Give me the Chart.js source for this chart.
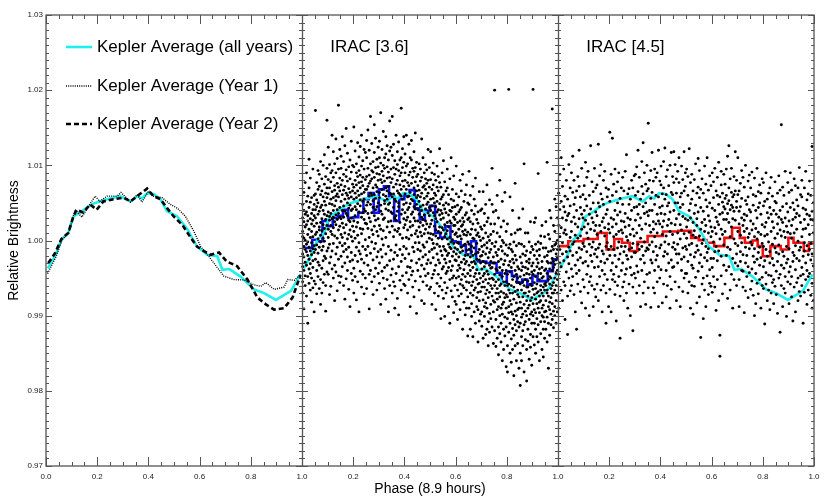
<!DOCTYPE html>
<html>
<head>
<meta charset="utf-8">
<script src="https://cdn.jsdelivr.net/npm/chart.js@4/dist/chart.umd.min.js"></script>
<style>
  body { margin: 0; background: #fff; }
  #wrap { width: 830px; height: 499px; }
</style>
</head>
<body>
<div id="wrap"><canvas id="phase-curve" width="830" height="499"></canvas></div>
<script>
// curve values are in parts per thousand relative to 1.0 (e.g. 4.5 -> 1.0045)
// phases run 0..1 inside each panel

// Kepler average, all years (cyan) - same curve is shown in every panel
let keplerAll = [[.007,-3.7],[.035,-2.1],[.06,0.1],[.087,1.0],[.107,3.2],[.133,3.7],[.16,4.4],[.192,5.0],[.238,5.5],[.29,5.9],[.33,5.2],[.356,5.9],[.375,5.6],[.395,6.3],[.42,6.2],[.447,5.5],[.473,3.9],[.513,3.2],[.552,1.5],[.59,-0.8],[.63,-1.9],[.669,-2.1],[.689,-3.9],[.716,-3.8],[.76,-4.8],[.813,-6.5],[.852,-7.0],[.898,-7.9],[.957,-6.7],[.994,-4.5]];

// Kepler average, year 1 (dotted)
let keplerYear1 = [[.006,-4.4],[.04,-2.1],[.063,0.1],[.09,1.2],[.114,4.1],[.14,3.1],[.165,4.5],[.192,5.9],[.21,5.2],[.238,5.9],[.278,5.9],[.293,6.4],[.33,5.1],[.356,6.1],[.375,5.1],[.401,6.6],[.42,5.9],[.453,5.7],[.486,4.8],[.513,4.3],[.545,3.2],[.578,1.2],[.604,-0.8],[.636,-2.1],[.669,-3.6],[.695,-4.75],[.735,-5.2],[.774,-5.25],[.813,-5.9],[.839,-6.1],[.859,-5.6],[.891,-6.5],[.93,-6.2],[.944,-5.2],[.97,-5.3],[.994,-4.5]];

// Kepler average, year 2 (dashed)
let keplerYear2 = [[.009,-3.0],[.035,-1.7],[.06,0.2],[.087,1.0],[.107,3.2],[.12,4.1],[.146,3.7],[.172,4.8],[.198,4.1],[.224,5.2],[.264,5.5],[.303,5.7],[.33,5.2],[.356,5.9],[.395,6.9],[.42,5.9],[.447,5.5],[.473,4.3],[.499,3.2],[.532,2.1],[.565,0.4],[.59,-0.8],[.617,-1.4],[.643,-1.9],[.676,-1.6],[.706,-2.8],[.746,-3.4],[.787,-5.2],[.826,-7.6],[.859,-8.5],[.891,-9.2],[.93,-9.0],[.963,-7.6],[.994,-4.6]];

// IRAC [3.6] binned light curve (blue step), bin edges and values
let irac36Edges = [0,.02,.04,.06,.08,.10,.12,.14,.16,.18,.20,.22,.24,.26,.28,.30,.32,.34,.36,.38,.40,.42,.44,.46,.48,.50,.52,.54,.56,.58,.60,.62,.64,.66,.68,.70,.72,.74,.76,.78,.80,.82,.84,.86,.88,.90,.92,.94,.96,.98,1.0];
let irac36Binned = [-1.0,-1.0,0.1,-0.1,2.6,1.9,3.0,3.3,4.1,3.0,3.1,3.7,5.5,6.3,3.7,6.8,7.2,5.9,2.6,5.5,6.0,6.7,4.3,2.8,4.0,4.6,1.0,0.4,1.9,-0.1,-0.2,-0.7,-1.9,-0.1,-2.8,-2.8,-3.0,-3.0,-4.3,-5.6,-4.1,-4.7,-5.6,-5.2,-5.9,-4.7,-5.4,-5.4,-4.1,-2.5];

// IRAC [4.5] binned light curve (red step), bin edges and values
let irac45Edges = [0,.04,.10,.155,.19,.22,.25,.28,.31,.35,.41,.47,.52,.55,.58,.61,.65,.68,.71,.73,.76,.78,.80,.83,.87,.90,.92,.96,.98,1.0];
let irac45Binned = [-0.75,-0.1,0.2,1.0,-1.2,0.2,-0.3,-1.4,-0.2,0.6,1.2,1.3,0.35,0.05,-0.3,-0.75,0.35,1.7,0.35,-0.3,0.0,-0.75,-2.1,-0.75,-1.2,0.35,-0.3,-1.4,-0.4];

// individual IRAC measurements, grouped in phase columns of width 0.005
// (row i covers phase i*0.005 .. (i+1)*0.005), values in units of 1e-4 relative to 1.0
let pointBinWidth = 0.005;
let irac36Columns = [
[12,-35,48,-70,5,-18,30,-55],[-22,64,-8,25,-91,40,-40,3],[35,-12,-60,18,77,-29,0,-47],[-5,52,-33,90,-15,21,-74,38],[26,-48,8,-20,59,-110,33,-2],
[-38,15,70,-9,-57,44,-25,108],[4,-66,29,51,-14,-31,83,-44],[57,-19,-3,36,-82,12,-50,22],[-27,41,95,-11,-63,27,5,-36],[19,-54,-16,60,33,-95,48,-7],
[30,-25,62,8,-58,173,41,-12],[11,45,-40,77,-6,23,-71,54],[50,-17,93,2,-48,35,-29,68],[-9,72,18,-64,39,88,-33,14],[44,-2,-52,61,24,-85,105,7],
[66,13,-37,47,-13,82,29,-70],[21,58,-27,100,3,-56,40,-8],[75,-21,35,-45,114,16,52,-1],[9,85,-60,28,63,-24,47,-94],[57,20,-14,96,-42,33,70,160],
[38,-10,81,15,-45,62,124,4],[70,27,-30,49,101,-5,32,-72],[12,90,55,-22,36,-61,78,20],[48,-38,65,140,8,29,-14,93],[84,31,-4,57,-50,118,40,17],
[25,67,-33,102,6,46,-80,73],[59,-18,90,34,-42,21,135,53],[3,76,41,-67,109,28,62,-9],[95,36,-25,58,14,180,-47,71],[44,-3,83,19,-56,66,31,121],
[29,74,-21,52,112,8,-48,96],[61,-7,40,138,-35,23,80,4],[17,88,46,-60,67,31,-15,105],[72,-30,55,10,126,-4,39,-78],[36,94,-12,63,21,-51,85,149],
[50,2,79,-40,33,116,-22,60],[8,69,-65,43,98,27,-9,56],[82,25,-28,107,47,-88,64,14],[40,-16,91,5,58,-44,132,30],[66,19,-53,75,-1,42,100,-26],
[55,98,12,-37,71,151,26,-70],[33,80,-20,119,45,3,63,-48],[90,41,-9,57,-79,102,18,74],[24,66,130,-28,49,85,-55,7],[77,-14,38,111,60,-3,-95,93],
[46,87,16,-41,125,54,-18,70],[62,-25,99,31,-62,78,140,9],[15,73,52,-8,106,-45,37,84],[95,28,-30,64,42,121,-71,55],[39,-12,81,117,-50,23,68,1],
[68,110,22,-20,85,47,-64,133],[51,96,-33,72,16,147,36,-8],[87,30,-45,59,120,4,-91,76],[25,79,102,-17,48,63,-40,165],[60,-2,93,37,129,-55,14,82],
[105,44,-26,70,8,-72,91,53],[33,84,154,-11,61,19,-48,117],[74,-37,97,41,-4,136,56,27],[12,89,65,-66,108,45,-22,71],[98,50,-15,124,29,-44,80,6],
[57,132,20,-30,88,64,-57,110],[81,-12,47,103,-85,39,170,15],[35,92,68,-22,121,2,-41,77],[100,28,-50,61,13,145,86,-6],[49,-36,79,110,-64,30,96,53],
[70,115,-18,42,4,-78,59,138],[18,83,55,-33,98,-52,126,66],[91,40,-8,72,-95,25,107,48],[63,-27,119,11,50,-60,84,159],[38,77,-13,95,26,-46,62,124],
[82,19,-38,58,113,-70,36,165],[44,97,5,-25,71,128,-55,62],[106,30,-61,88,14,-16,55,-90],[27,75,140,-44,52,95,-6,33],[66,-20,101,39,-77,80,118,12],
[93,50,-35,16,63,-99,131,45],[8,86,61,-12,107,24,-53,74],[59,176,-28,90,35,-66,68,110],[41,-47,79,122,3,55,-19,97],[72,17,-8,104,-58,48,138,29],
[37,90,-24,62,115,-60,21,80],[68,4,-43,99,50,140,-11,27],[14,77,41,-70,102,31,-35,58],[87,-18,59,128,2,-52,73,44],[25,64,-36,91,18,110,-88,49],
[55,107,7,-27,76,-46,133,35],[96,38,-62,53,-9,84,20,-41],[30,70,118,-15,45,-75,92,61],[78,-3,42,97,-54,26,143,9],[48,85,-30,66,13,-97,57,104],
[26,60,-12,88,41,-40,5,73],[52,-25,35,102,-3,67,-66,18],[79,11,-48,45,24,-14,95,58],[6,63,31,-33,84,-80,40,135],[47,-6,71,20,-55,110,28,-22],
[90,34,-38,56,9,73,-9,-84],[15,68,101,-19,42,-47,26,82],[59,-31,22,76,-2,94,48,-60],[37,80,-44,10,63,121,-26,51],[71,3,44,-15,97,-65,33,18],
[22,55,-30,81,9,-62,40,118],[46,-12,68,-50,27,90,1,-85],[8,74,37,-23,56,-4,103,-45],[63,-40,19,88,-70,33,-10,50],[29,6,80,-33,45,-92,60,14],
[-5,52,-57,25,99,-18,38,71],[41,-26,12,66,-45,85,-74,3],[18,77,-8,34,-61,49,122,-30],[55,-50,28,-14,71,-104,10,40],[-20,36,90,2,-38,58,-66,17],
[14,-35,61,-8,30,-77,47,106],[-25,42,5,-56,78,21,-12,-101],[37,-14,-44,66,9,-30,50,-70],[2,70,-63,24,-20,95,-41,13],[-36,18,48,-5,-88,34,-17,61],
[26,-52,-9,82,-28,4,-110,40],[-11,55,23,-40,39,-67,110,-2],[44,-21,-75,12,68,-34,1,-50],[-4,31,-47,86,-15,20,-96,53],[20,-60,8,-26,45,-81,28,-10],
[-18,35,-50,10,-85,62,-27,99],[5,-40,-12,47,-66,24,-105,-3],[-33,15,58,-22,-4,-74,38,-48],[26,-58,-16,80,-37,6,-92,41],[-9,44,-71,19,-29,66,-52,2],
[-45,12,30,-60,88,-14,-118,21],[8,-25,-82,52,-6,-39,25,-63],[-20,61,-5,-48,34,-99,14,-31],[37,-66,-28,7,-55,74,-13,-90],[-2,28,-44,-75,50,-19,-127,11],
[-12,30,-56,-5,-90,48,-33,92],[-40,8,-70,25,-22,-118,60,-47],[15,-29,-84,-8,40,-60,-15,-101],[-55,22,-36,72,-73,3,-128,-20],[2,-48,-10,-95,35,-28,55,-66],
[-31,46,-63,-18,-110,14,-44,83],[-76,-4,28,-52,-25,-88,7,-39],[10,-58,-92,38,-16,-69,-135,23],[-26,65,-44,-80,5,-107,-12,-57],[-50,0,-30,40,-98,-21,-68,18],
[-20,-62,15,-95,-38,42,-114,-8],[-47,3,-79,-28,65,-55,-130,-15],[20,-35,-101,-62,-6,-88,36,-44],[-71,-18,48,-52,-125,-30,10,-83],[-10,-90,-41,25,-66,-3,-118,74],
[-57,30,-23,-108,-45,5,-76,-140],[0,-69,-33,54,-97,-16,-51,-122],[-85,-12,22,-60,-37,-104,8,-28],[-36,48,-74,-4,-115,-50,96,-64],[-22,-95,-52,12,-80,-30,-137,38],
[-45,-8,-82,200,-30,-120,22,-60],[-16,-70,-105,-38,40,-55,-141,-2],[-64,10,-40,-92,-20,-130,60,-78],[-28,-88,-52,30,-115,-12,-70,-152],[5,-60,-100,-36,-75,80,-46,-124],
[-90,-25,-58,18,-135,-68,-8,-110],[-40,52,-85,-14,-160,-48,-98,0],[-70,-32,-118,-3,-55,26,-145,-82],[-18,-102,-44,64,-76,-127,-27,-60],[-55,-6,-90,-40,-168,12,-72,-115],
[-60,-20,-104,-45,22,-140,-75,-175],[-33,-88,201,-58,-122,-10,-66,-96],[-80,-42,-150,-5,-110,-28,58,-70],[-12,-95,-60,-131,-36,-85,-162,8],[-70,-25,-117,-52,40,-98,-15,-145],
[-48,-105,-30,-78,-180,-2,-62,-126],[-94,-40,-140,10,-68,-112,-20,76],[-26,-83,-55,-120,-7,-160,-45,-100],[-66,14,-92,-35,-137,-72,-108,-50],[-38,-115,-4,-75,-56,-170,30,-90],
[-58,-22,-110,-48,-150,15,-82,-193],[-90,-40,-128,-5,-66,-102,-30,-160],[-18,-75,-55,-140,-98,42,-120,-35],[-70,-112,-8,-85,-46,-175,-60,102],[-36,-94,-132,-20,-70,-52,-108,10],
[-80,-28,-62,-145,-14,-100,-187,-44],[-54,10,-118,-74,-38,-90,-134,-62],[-25,-86,-45,-158,-105,-2,-68,-30],[-98,-50,-125,-16,-80,-142,25,-58],[-42,-76,-8,-110,-60,-166,-34,-95],
[-65,-30,-100,201,-45,-128,-12,-84],[-20,-92,-56,-139,-72,24,-110,-40],[-78,-5,-118,-48,-96,-64,-150,30],[-35,-84,-25,-104,-58,-128,-14,-70],[-90,-44,-135,-2,-68,-112,-30,89],
[-12,-74,-52,-96,-160,-38,-82,-20],[-60,-108,6,-80,-44,-124,-66,-4],[-100,-28,-70,-145,-50,20,-90,-36],[-48,-86,-118,-10,-62,-102,-74,-155],[-22,-58,-95,-40,-130,5,-66,-108],
[-38,-80,-10,-118,-56,-94,25,-60],[-70,-20,-102,-44,-135,-66,104,-28],[-15,-88,-52,-170,-30,-110,8,-74],[-58,2,-82,-38,-126,-48,-92,40],[-30,-64,-112,-14,-76,30,-50,-98],
[-84,-24,-60,175,-40,-105,-8,-70],[-12,-70,-36,-94,20,-56,-116,-28],[-50,12,-88,-32,-66,-6,-100,55],[-26,-60,-18,-80,45,-44,-110,-4],[-40,0,-70,-22,-95,30,-52,-12]
];

let irac45Columns = [
[20,-45,63,-8,-90],[-30,41,-12,88,5],[52,-66,17,-35,110],[-18,30,-80,72,-3],[45,-27,-55,10,95],
[-60,14,38,-105,59],[8,-42,80,-15,27],[-74,55,-22,33,-125],[36,-9,-50,101,-31],[-14,70,4,-67,46],
[25,-38,90,-60,12],[-5,64,-20,112,-48],[48,-72,31,-2,80],[-33,7,-95,57,22],[66,-16,40,-44,-118],
[3,85,-58,18,-26],[-40,29,72,-10,120],[58,-23,-68,44,6],[-12,96,15,-83,35],[30,-52,61,-30,-4],
[73,-8,40,-62,18],[-28,55,-90,27,104],[10,-45,84,-15,46],[92,-34,22,-70,3],[-55,60,-5,35,-100],
[42,-20,126,-48,15],[-9,78,-60,30,-28],[65,-2,50,-88,24],[-36,13,96,-18,-65],[20,-75,38,70,-12],
[33,-22,74,-58,8],[-10,50,128,-35,-80],[86,-48,20,-5,45],[-66,12,62,-28,101],[25,-40,-95,55,-14],
[48,80,-18,-60,30],[-30,6,92,-45,17],[70,-70,35,-8,-110],[-3,58,-25,41,-52],[15,-88,68,-12,22],
[144,-20,52,-65,10],[-40,30,-8,88,-95],[60,-52,18,-30,136],[5,75,-45,28,-12],[-72,40,95,-20,-55],
[22,-35,65,-107,8],[50,-10,-60,34,78],[-25,90,12,-48,-2],[38,-74,56,-18,-130],[-8,26,-40,70,14],
[10,-30,48,-62,84],[-55,66,-15,25,-80],[36,-45,92,-8,18],[-20,5,-70,114,-38],[62,-25,30,-90,0],
[-12,48,-58,20,69],[28,-100,8,-36,55],[-46,80,-22,40,-10],[15,-62,70,-4,-120],[44,-16,-44,86,6],
[60,-16,27,-50,88],[10,98,-34,45,-70],[-42,35,65,-5,120],[84,-12,48,-60,20],[3,55,-88,30,-25],
[72,-40,15,105,-8],[-20,45,-70,62,130],[36,-2,90,-30,-55],[50,-85,22,75,-14],[-10,66,38,-45,100],
[33,-12,69,-63,156],[80,20,-43,40,-6],[-26,93,11,-89,56],[64,-2,40,-30,117],[15,79,-63,25,-15],
[48,-40,95,5,-70],[-8,60,22,-26,84],[90,-20,35,-55,10],[26,120,-35,58,-88],[-50,44,79,-10,22],
[74,-6,36,-39,99],[18,62,-83,46,8],[-21,105,26,-58,70],[55,-15,123,-2,35],[6,85,-40,61,-75],
[46,-60,20,94,-18],[-30,28,73,-5,50],[100,12,-48,38,-90],[23,-26,64,-65,117],[61,-9,8,85,-36],
[40,-3,77,-35,118],[21,101,-55,50,-12],[-18,63,29,-80,82],[50,-30,10,92,-5],[77,-62,35,-18,110],
[2,58,-88,44,21],[63,-25,99,-40,14],[-10,81,32,-68,48],[118,9,-50,66,-22],[29,-44,72,-8,90],
[-44,18,95,3,-12],[60,-70,27,-28,85],[11,40,-55,122,-6],[-19,77,49,-90,30],[88,-33,-4,55,-60],
[24,-98,66,7,-37],[-61,36,13,81,-22],[47,102,-16,-49,4],[-7,29,-83,63,20],[71,-41,38,-13,109],
[-30,6,57,-75,93],[15,-129,44,-19,68],[82,-4,-58,24,-35],[-50,63,1,-104,39],[28,-23,99,-66,12],
[54,-88,20,-8,75],[-16,45,-47,110,-27],[67,10,-72,33,-11],[-39,86,26,-57,50],[5,-61,73,-24,18],
[43,90,-36,12,-69],[-24,57,-2,78,-48],[96,17,-62,40,-15],[-8,-93,31,66,9],[60,-27,84,-52,25],
[21,-14,48,104,-80],[-126,35,-154,58,2],[74,-47,15,-21,92],[8,63,-71,37,51],[-33,28,88,-6,45],
[56,12,42,-58,75],[-20,95,60,28,-40],[36,-9,49,-77,112],[70,24,126,-35,53],[-12,82,41,5,-66],
[47,-45,64,96,18],[29,58,-24,44,-90],[85,39,2,-52,61],[-4,66,118,27,-30],[52,-18,44,80,-60],
[12,110,-34,61,-7],[66,-52,22,-88,39],[-28,7,76,45,-15],[93,-40,30,-3,56],[-62,20,-19,84,-41],
[35,71,-96,12,27],[-9,-30,53,-67,100],[48,16,-48,33,-20],[79,-76,4,58,-35],[-43,41,87,-11,9],
[26,-65,38,-2,70],[-54,14,91,-38,-6],[61,-21,-73,47,22],[-11,83,-29,5,-100],[40,-44,59,-84,16],
[2,30,-57,96,-25],[-71,65,11,-16,44],[50,-33,74,-52,-9],[-23,8,-90,35,63],[82,-49,21,-4,-60],
[-35,46,-8,77,-64],[18,-111,52,-27,6],[-58,24,-43,90,-12],[37,-80,8,-21,55],[-2,63,-66,30,-46],
[70,-15,-92,44,-30],[-47,12,35,-70,84],[25,-56,-5,59,-24],[-84,40,-33,17,-52],[52,-10,78,-61,3],
[-16,35,-72,50,-41],[63,-28,9,-97,22],[-50,86,-18,31,-6],[14,-45,67,-122,40],[-33,154,-60,6,28],
[45,-88,24,-15,71],[-64,12,-37,60,-21],[30,-70,4,92,-48],[-8,49,-101,19,-30],[77,-25,38,-55,11],
[-42,64,-11,26,-84],[9,-58,90,-35,44],[-75,20,-48,3,67],[50,-16,28,-107,-28],[-20,82,-62,41,10],
[31,-39,-7,73,-95],[-56,15,54,-24,36],[70,-80,-1,46,-50],[-13,33,-68,97,-27],[24,-47,61,-9,-74],
[-36,58,5,-60,80],[15,-110,43,-21,-45],[-69,28,-14,70,-3],[41,-52,92,-30,16],[-7,-85,35,54,-40],
[62,-19,-48,21,-66],[-44,8,79,-12,33],[28,-73,-26,60,-4],[-18,125,-57,39,-90],[50,-34,10,-80,27]
];

// tick labels and axis text
let xTickStep = 0.2;
let yTickStep = 0.01;
let panelTitles = ['', 'IRAC [3.6]', 'IRAC [4.5]'];
let xAxisTitle = 'Phase (8.9 hours)';
let yAxisTitle = 'Relative Brightness';

// turns [phase, ppt] pairs into chart points for panel k (panel k spans x = k..k+1)
function toPanel(k, pairs) {
    return pairs.map(p => ({ x: k + p[0], y: 1 + p[1] / 1000 }));
}

// phase columns of measurements -> chart points for panel k
function columnsToPanel(k, columns) {
    let pts = [];
    columns.forEach((col, i) => {
        let phase = (i + 0.5) * pointBinWidth;
        col.forEach(v => pts.push({ x: k + phase, y: 1 + v / 10000 }));
    });
    return pts;
}

// step line from bin edges: each value holds from its edge to the next one
function stepPoints(k, edges, values) {
    let pts = values.map((v, i) => ({ x: k + edges[i], y: 1 + v / 1000 }));
    pts.push({ x: k + edges[edges.length - 1], y: 1 + values[values.length - 1] / 1000 });
    return pts;
}

const FONT = "'Liberation Sans', Arial, Helvetica, sans-serif";

let lineStyle = {
    showLine: true,
    pointRadius: 0,
    fill: false,
    tension: 0,
};
let dotStyle = {
    showLine: false,
    pointRadius: 1.45,
    pointBorderWidth: 0,
    pointBackgroundColor: '#000',
    borderColor: '#000',
};

let datasets = [
    Object.assign({ label: 'IRAC [3.6] data', data: columnsToPanel(1, irac36Columns) }, dotStyle),
    Object.assign({ label: 'IRAC [4.5] data', data: columnsToPanel(2, irac45Columns) }, dotStyle),
    Object.assign({ label: 'Kepler Average (Year 1)', data: toPanel(0, keplerYear1), borderColor: '#000', borderWidth: 1.4, borderDash: [1, 1.2] }, lineStyle),
    Object.assign({ label: 'Kepler Average (Year 2)', data: toPanel(0, keplerYear2), borderColor: '#000', borderWidth: 2.6, borderDash: [5, 3] }, lineStyle),
    Object.assign({ label: 'Kepler Average (all years)', data: toPanel(0, keplerAll), borderColor: '#1ff0ee', borderWidth: 2.6 }, lineStyle),
    Object.assign({ label: 'Kepler all years (3.6 panel)', data: toPanel(1, keplerAll), borderColor: '#1ff0ee', borderWidth: 2.6 }, lineStyle),
    Object.assign({ label: 'Kepler all years (4.5 panel)', data: toPanel(2, keplerAll), borderColor: '#1ff0ee', borderWidth: 2.6 }, lineStyle),
    Object.assign({ label: 'IRAC [3.6] binned', data: stepPoints(1, irac36Edges, irac36Binned), borderColor: '#0a14f0', borderWidth: 2.6, stepped: true }, lineStyle),
    Object.assign({ label: 'IRAC [4.5] binned', data: stepPoints(2, irac45Edges, irac45Binned), borderColor: '#f01010', borderWidth: 2.6, stepped: true }, lineStyle),
];

// frame, panel dividers and the inward tick marks
const framePlugin = {
    id: 'frame',
    afterDatasetsDraw(chart) {
        const { ctx, chartArea: a, scales: { x, y } } = chart;
        ctx.save();
        ctx.strokeStyle = '#555';
        ctx.lineWidth = 1.3;
        ctx.strokeRect(a.left, a.top, a.right - a.left, a.bottom - a.top);
        ctx.beginPath();
        for (let k = 1; k <= 2; k++) {
            let px = Math.round(x.getPixelForValue(k)) + 0.5;
            ctx.moveTo(px, a.top);
            ctx.lineTo(px, a.bottom);
        }
        ctx.stroke();

        ctx.lineWidth = 1;
        ctx.beginPath();
        // y ticks on every panel border
        for (let i = 0; i <= 60; i++) {
            let py = Math.round(y.getPixelForValue(0.97 + i * 0.001)) + 0.5;
            let len = i % 10 === 0 ? 6 : 3;
            for (let k = 0; k <= 3; k++) {
                let px = x.getPixelForValue(k);
                if (k < 3) { ctx.moveTo(px, py); ctx.lineTo(px + len, py); }
                if (k > 0) { ctx.moveTo(px, py); ctx.lineTo(px - len, py); }
            }
        }
        // x ticks, bottom and top
        for (let i = 0; i <= 60; i++) {
            let px = Math.round(x.getPixelForValue(i * 0.05)) + 0.5;
            let len = i % 4 === 0 ? 9 : 4;
            ctx.moveTo(px, a.bottom); ctx.lineTo(px, a.bottom - len);
            ctx.moveTo(px, a.top); ctx.lineTo(px, a.top + len);
        }
        ctx.stroke();
        ctx.restore();
    },
    afterDraw(chart) {
        const { ctx, chartArea: a, scales: { x, y } } = chart;
        ctx.save();
        ctx.fillStyle = '#000';
        ctx.textBaseline = 'middle';

        // legend in the first panel, styles taken from the datasets
        let legendItems = [4, 2, 3];
        let ly = [47, 86, 124];
        legendItems.forEach((di, i) => {
            let ds = chart.data.datasets[di];
            ctx.save();
            ctx.strokeStyle = ds.borderColor;
            ctx.lineWidth = ds.borderWidth;
            ctx.setLineDash(ds.borderDash || []);
            ctx.beginPath();
            ctx.moveTo(66, ly[i]);
            ctx.lineTo(92, ly[i]);
            ctx.stroke();
            ctx.restore();
            ctx.font = '17px ' + FONT;
            ctx.textAlign = 'left';
            ctx.fillText(ds.label, 97, ly[i]);
        });

        // panel titles
        ctx.font = '17px ' + FONT;
        panelTitles.forEach((t, k) => {
            if (t) ctx.fillText(t, x.getPixelForValue(k + 0.11), 47);
        });

        // axis titles
        ctx.font = '14px ' + FONT;
        ctx.textAlign = 'center';
        ctx.fillText(xAxisTitle, (a.left + a.right) / 2, 489);
        ctx.translate(14, (a.top + a.bottom) / 2);
        ctx.rotate(-Math.PI / 2);
        ctx.fillText(yAxisTitle, 0, 0);
        ctx.restore();
    }
};

let ctx = document.querySelector('#phase-curve').getContext('2d');
let phaseChart = new Chart(ctx, {
    type: 'scatter',
    data: { datasets: datasets },
    options: {
        responsive: false,
        animation: false,
        devicePixelRatio: 1,
        layout: { padding: { top: 15, right: 16, left: 0, bottom: 0 } },
        plugins: {
            legend: { display: false },
            tooltip: { enabled: false },
        },
        scales: {
            x: {
                type: 'linear',
                min: 0,
                max: 3,
                grid: { display: false, drawTicks: false },
                border: { display: false },
                afterFit: s => { s.height = 33; },
                ticks: {
                    stepSize: xTickStep,
                    autoSkip: false,
                    maxRotation: 0,
                    padding: 6,
                    color: '#222',
                    font: { family: FONT, size: 8 },
                    callback: v => {
                        let r = Math.round(v * 10) / 10;
                        let f = Math.round((r - Math.floor(r)) * 10) / 10;
                        return (r > 0 && f === 0) ? '1.0' : f.toFixed(1);
                    },
                },
            },
            y: {
                min: 0.97,
                max: 1.03,
                grid: { display: false, drawTicks: false },
                border: { display: false },
                afterFit: s => { s.width = 46; },
                ticks: {
                    stepSize: yTickStep,
                    padding: 3,
                    color: '#222',
                    font: { family: FONT, size: 8 },
                    callback: v => v.toFixed(2),
                },
            },
        },
    },
    plugins: [framePlugin],
});
</script>
</body>
</html>
